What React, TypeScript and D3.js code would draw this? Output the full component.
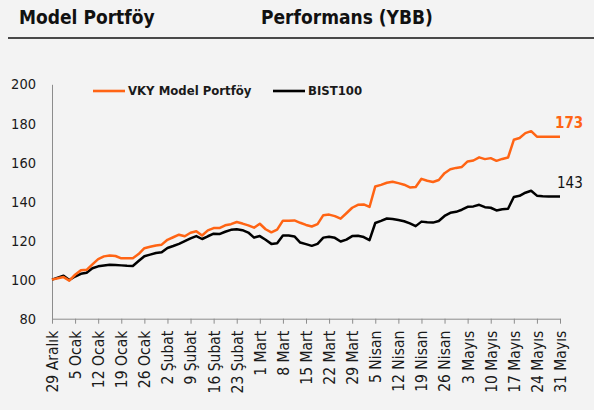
import { useEffect, useRef } from 'react'
import * as d3 from 'd3'

// weekly tick labels (every 4th point)
const tickLabels = [
  '29 Aralık', '5 Ocak', '12 Ocak', '19 Ocak', '26 Ocak', '2 Şubat', '9 Şubat',
  '16 Şubat', '23 Şubat', '1 Mart', '8 Mart', '15 Mart', '22 Mart', '29 Mart',
  '5 Nisan', '12 Nisan', '19 Nisan', '26 Nisan', '3 Mayıs', '10 Mayıs',
  '17 Mayıs', '24 Mayıs', '31 Mayıs',
]
const pointsPerTick = 4

const vkyModel = [
  100, 100.7, 101.3, 99.5, 102.5, 104.8, 105, 107.8, 110.5, 111.9,
  112.4, 112.1, 110.9, 110.9, 110.9, 113.1, 116.1, 116.8, 117.5, 117.9,
  120.4, 121.7, 123, 122.2, 124, 124.8, 122.6, 125.2, 126.4, 126.4,
  127.8, 128.4, 129.5, 128.7, 127.8, 126.6, 128.6, 125.8, 124.2, 125.6,
  130.2, 130.2, 130.3, 129.1, 128, 127.2, 128.4, 133, 133.3, 132.5,
  131.2, 134, 136.8, 138.3, 138.5, 137.2, 147.7, 148.5, 149.6, 150.1,
  149.4, 148.6, 147.2, 147.4, 151.6, 150.6, 150, 151, 154.5, 156.5,
  157.2, 157.7, 160.5, 161, 162.6, 161.7, 162.2, 160.8, 161.8, 162.5,
  171.6, 172.5, 175, 176, 173.2, 173.2, 173.2, 173.2, 173.2,
]

const bist100 = [
  100, 101, 102, 99.8, 101.6, 103, 103.5, 105.8, 106.8, 107.2,
  107.6, 107.5, 107.3, 107.1, 107, 109.5, 112, 112.8, 113.6, 114,
  116.2, 117.2, 118.3, 119.7, 121.1, 122.3, 120.8, 122.2, 123.5, 123.3,
  124.5, 125.5, 125.8, 125.3, 124.1, 121.5, 122.3, 120.4, 118.3, 118.6,
  122.6, 122.6, 122.1, 119, 118.2, 117.3, 118.3, 121.5, 122, 121.4,
  119.5, 120.5, 122.3, 122.5, 121.8, 120.2, 129, 130.1, 131.3, 131,
  130.5, 129.9, 128.8, 127.4, 129.7, 129.4, 129.2, 130, 132.6, 134.2,
  134.7, 135.8, 137.3, 137.5, 138.3, 137.1, 136.8, 135.4, 136, 136.3,
  142.3, 142.9, 144.5, 145.5, 143, 142.7, 142.6, 142.5, 142.5,
]

const yTicks = [80, 100, 120, 140, 160, 180, 200]

const ORANGE = '#ff6414'
const FONT = '"DejaVu Sans Condensed", "DejaVu Sans", sans-serif'

export default function App() {
  const xAxisRef = useRef<SVGGElement>(null)
  const yAxisRef = useRef<SVGGElement>(null)

  const width = 594
  const height = 410

  const x = d3.scaleLinear()
    .domain([0, vkyModel.length - 1])
    .range([52, 560])

  const y = d3.scaleLinear()
    .domain([80, 200])
    .range([318.7, 84.3])

  const line = d3.line<number>()
    .x((d, i) => x(i))
    .y(d => y(d))

  useEffect(() => {
    if (!xAxisRef.current || !yAxisRef.current) return

    const xAxis = d3.axisBottom(x)
      .tickValues(tickLabels.map((_, i) => i * pointsPerTick))
      .tickFormat((d, i) => tickLabels[i])
      .tickSizeInner(5)
      .tickSizeOuter(0)

    const gx = d3.select(xAxisRef.current)
    gx.selectAll('*').remove()
    gx.call(xAxis)
    gx.select('.domain').attr('stroke', '#8c8c8c')
    gx.selectAll('.tick line').attr('stroke', '#8c8c8c')
    gx.selectAll('.tick text')
      .attr('transform', 'rotate(-90)')
      .attr('text-anchor', 'end')
      .attr('x', -12)
      .attr('y', 0)
      .attr('dy', '0.35em')
      .style('font-family', FONT)
      .style('font-size', '15.5px')
      .style('fill', '#1a1a1a')

    const yAxis = d3.axisLeft(y)
      .tickValues(yTicks)
      .tickSize(0)
      .tickPadding(16)

    const gy = d3.select(yAxisRef.current)
    gy.selectAll('*').remove()
    gy.call(yAxis)
    gy.select('.domain').attr('stroke', '#8c8c8c')
    gy.selectAll('.tick text')
      .style('font-family', FONT)
      .style('font-size', '14.5px')
      .style('fill', '#1a1a1a')
  }, [])

  const last = vkyModel.length - 1

  return (
    <svg
      width={width}
      height={height}
      style={{ position: 'absolute', left: 0, top: 0, background: '#f3f3f3' }}
      fontFamily={FONT}
    >
      <rect width={width} height={height} fill="#f3f3f3" />

      <text x={19} y={24} fontSize={19} fontWeight="bold" fill="#111">Model Portföy</text>
      <text x={261} y={24} fontSize={19} fontWeight="bold" fill="#111">Performans (YBB)</text>
      <line x1={8} x2={594} y1={38} y2={38} stroke="#111" strokeWidth={1.3} />

      <g ref={xAxisRef} transform={`translate(0,${y(80)})`} />
      <g ref={yAxisRef} transform={`translate(${x(0)},0)`} />

      <path d={line(bist100) || ''} fill="none" stroke="#000" strokeWidth={2.5} strokeLinejoin="round" />
      <path d={line(vkyModel) || ''} fill="none" stroke={ORANGE} strokeWidth={2.5} strokeLinejoin="round" />

      <text x={x(last) - 5} y={y(vkyModel[last]) - 9} fontSize={15} fontWeight="bold" fill={ORANGE}>
        {Math.round(vkyModel[last])}
      </text>
      <text x={x(last) - 3} y={y(bist100[last]) - 9} fontSize={15} fill="#111">
        {Math.round(bist100[last])}
      </text>

      {/* legend */}
      <line x1={93} x2={125} y1={91} y2={91} stroke={ORANGE} strokeWidth={2.6} />
      <text x={128} y={95} fontSize={13} fontWeight="bold" fill="#1a1a1a">VKY Model Portföy</text>
      <line x1={273} x2={305} y1={91} y2={91} stroke="#000" strokeWidth={2.6} />
      <text x={308} y={95} fontSize={13} fontWeight="bold" fill="#1a1a1a">BIST100</text>
    </svg>
  )
}
